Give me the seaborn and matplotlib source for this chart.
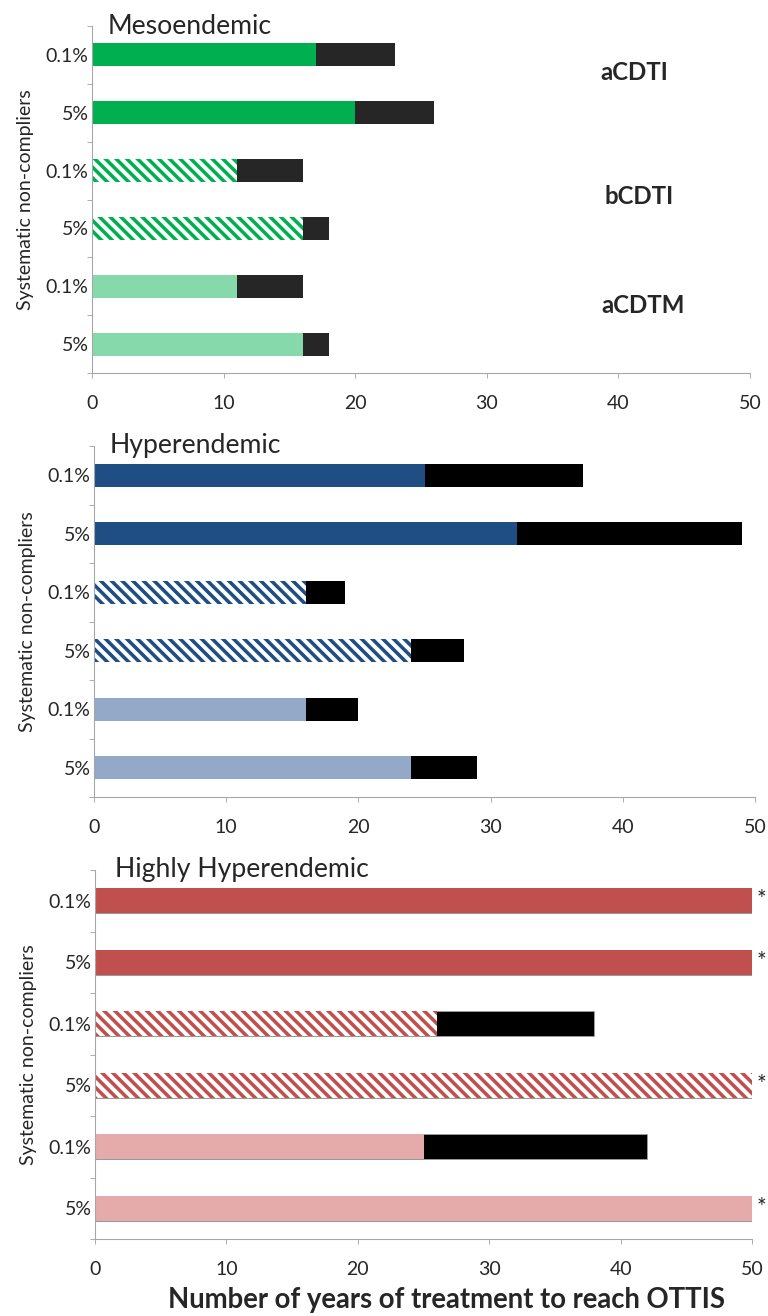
import matplotlib
matplotlib.use('Agg')
import matplotlib.pyplot as plt
import seaborn as sns
import pandas as pd
import numpy as np

# rows top to bottom: aCDTI 0.1%, aCDTI 5%, bCDTI 0.1%, bCDTI 5%, aCDTM 0.1%, aCDTM 5%
row_labels = ['0.1%', '5%', '0.1%', '5%', '0.1%', '5%']
strategies = ['aCDTI', 'aCDTI', 'bCDTI', 'bCDTI', 'aCDTM', 'aCDTM']

meso_treat = [17, 20, 11, 16, 11, 16]
meso_total = [23, 26, 16, 18, 16, 18]
hyper_treat = [25, 32, 16, 24, 16, 24]
hyper_total = [37, 49, 19, 28, 20, 29]
highly_treat = [50, 50, 26, 50, 25, 50]
highly_total = [50, 50, 38, 50, 42, 50]
highly_star = [True, True, False, True, False, True]

panel_titles = ['Mesoendemic', 'Hyperendemic', 'Highly Hyperendemic']
main_colors = ['#00B050', '#1F4E85', '#C0504D']
tint_colors = ['#86D9AA', '#94A9C8', '#E4ABAA']
extra_colors = ['#262626', '#000000', '#000000']

DPI = 64
sns.set_theme(style='white')
plt.rcParams['font.family'] = ['Lato', 'DejaVu Sans']
plt.rcParams['hatch.linewidth'] = 4.0

fig = plt.figure(figsize=(768 / DPI, 1316 / DPI), dpi=DPI, facecolor='white')

# axes boxes in figure fraction [left, bottom, width, height]
boxes = [
    [92 / 768, 1 - 373 / 1316, 658 / 768, 347 / 1316],
    [94 / 768, 1 - 797 / 1316, 661 / 768, 351 / 1316],
    [95 / 768, 1 - 1239 / 1316, 657 / 768, 369 / 1316],
]
title_offsets = [16, 16, 20]

treats = [meso_treat, hyper_treat, highly_treat]
totals = [meso_total, hyper_total, highly_total]

for p in range(3):
    ax = fig.add_axes(boxes[p])
    df = pd.DataFrame({
        'row': list(range(6)),
        'treat': treats[p],
        'total': totals[p],
        'strategy': strategies,
    })

    # treatment years plus the extra years needed (stacked)
    sns.barplot(data=df, x='total', y='row', orient='h', color=extra_colors[p],
                width=0.4, errorbar=None, saturation=1, ax=ax)
    n_black = len(ax.patches)
    pal = [main_colors[p], main_colors[p], 'white', 'white', tint_colors[p], tint_colors[p]]
    sns.barplot(data=df, x='treat', y='row', orient='h', hue='row', palette=pal,
                width=0.4, errorbar=None, saturation=1, legend=False, ax=ax)

    for patch in ax.patches[:n_black]:
        if p == 2:
            patch.set_edgecolor('#A0A0A0')
            patch.set_linewidth(0.9)
        else:
            patch.set_linewidth(0)
    for i, patch in enumerate(ax.patches[n_black:]):
        patch.set_linewidth(0)
        if strategies[i] == 'bCDTI':
            patch.set_facecolor('white')
            patch.set_edgecolor(main_colors[p])
            patch.set_hatch('\\\\')

    ax.set_xlim(0, 50)
    ax.set_ylim(5.5, -0.5)
    ax.set_xticks([0, 10, 20, 30, 40, 50])
    ax.set_yticks(range(6))
    ax.set_yticklabels(row_labels)
    ax.set_yticks(np.arange(-0.5, 6, 1), minor=True)
    ax.tick_params(axis='y', which='major', length=0, labelsize=22, pad=4)
    ax.tick_params(axis='y', which='minor', length=6, width=1, color='#A6A6A6', left=True)
    ax.tick_params(axis='x', length=6, width=1, color='#A6A6A6', labelsize=22, bottom=True, pad=19)
    for s in ['top', 'right']:
        ax.spines[s].set_visible(False)
    for s in ['left', 'bottom']:
        ax.spines[s].set_color('#A6A6A6')
        ax.spines[s].set_linewidth(1.2)
    ax.set_ylabel('Systematic non-compliers', fontsize=22, labelpad=13)
    ax.set_xlabel('')
    ax.patch.set_alpha(0)
    ax.annotate(panel_titles[p], xy=(0, 1), xycoords='axes fraction',
                xytext=(title_offsets[p] * 72 / DPI, 0), textcoords='offset points',
                fontsize=30, ha='left', va='center')

    if p == 2:
        for i in range(6):
            if highly_star[i]:
                ax.text(highly_total[i] + 0.35, i - 0.02, '*', fontsize=26, ha='left', va='center')
        ax.set_xlabel('Number of years of treatment to reach OTTIS', fontsize=31,
                      fontweight='bold')
        ax.xaxis.label.set_va('center')
        ax.xaxis.set_label_coords((447 - 95) / 657, -(1300 - 1239) / 369)

    if p == 0:
        for name, ypos, xpos in [('aCDTI', 0.31, 41.2), ('bCDTI', 2.45, 41.6), ('aCDTM', 4.34, 41.9)]:
            ax.text(xpos, ypos, name, fontsize=27, fontweight='bold', ha='center', va='center')

fig.savefig('out.png', dpi=DPI, facecolor='white')
